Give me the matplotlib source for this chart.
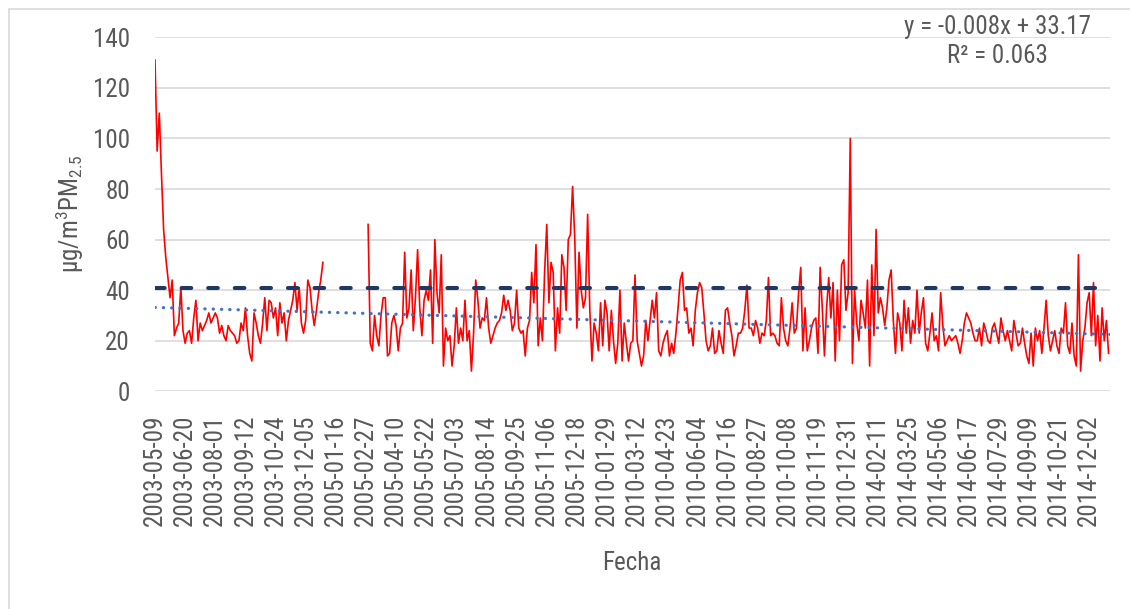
import numpy as np
import pandas as pd
import matplotlib
matplotlib.use('Agg')
import matplotlib.pyplot as plt
from matplotlib.patches import Rectangle

plt.rcParams['font.family'] = ['Liberation Sans Narrow', 'Roboto Condensed', 'Open Sans Condensed',
                               'Liberation Sans', 'DejaVu Sans']
plt.rcParams['mathtext.default'] = 'regular'

# Periodos medidos (cada dia es una categoria del eje x)
periodos = [('2003-05-09', '2003-12-31'), ('2005-01-01', '2005-12-31'),
            ('2010-01-01', '2010-12-31'), ('2014-01-01', '2014-12-31')]

# PM2.5 (ug/m3) leido cada 3 dias
inicio_2003 = '2003-05-09'
pm_2003 = [131, 95, 110, 86, 64, 53, 45, 37, 44, 22, 25, 27, 41, 24, 19, 23, 24, 19, 29, 36,
           20, 27, 24, 26, 28, 31, 27, 29, 31, 29, 23, 26, 22, 20, 26, 24, 23, 22, 19, 20,
           27, 24, 33, 22, 15, 12, 31, 27, 22, 19, 27, 37, 24, 36, 35, 29, 33,
           22, 35, 27, 31, 20, 28, 32, 36, 43, 32, 41, 27, 23, 28, 44, 41, 32, 26, 32, 39, 44, 51]

inicio_2005 = '2005-03-02'
pm_2005 = [66, 19, 16, 30, 22, 18, 30, 37, 37, 14, 15, 27, 30,
           26, 16, 25, 27, 55, 29, 33, 48, 24, 37, 56, 33, 22, 36, 40, 36, 48, 19, 60, 39,
           31, 54, 10, 25, 20, 22, 10, 18, 33, 19, 25, 20, 36, 20, 24, 8, 23, 44, 36, 25,
           29, 28, 37, 25, 19, 22, 25, 27, 28, 31, 38, 32, 36, 32, 24, 27,
           40, 25, 23, 24, 14, 25, 28, 47, 35, 58, 18, 29, 20, 47, 66, 35, 51, 47, 16, 33,
           23, 54, 49, 32, 60, 62, 81, 61, 25, 55, 40, 33, 37]

inicio_2010 = '2010-01-02'
pm_2010 = [70, 32, 12, 27, 23, 16, 35, 18, 36, 31, 16, 32, 20, 11, 19, 40, 12, 27, 19, 12, 19, 20, 46,
           20, 15, 10, 14, 28, 20, 28, 36, 29, 39, 16, 14, 19, 22, 24, 14, 19, 15, 23, 33,
           44, 47, 32, 33, 23, 25, 18, 32, 39, 43, 41, 31, 20, 16, 18, 25, 15, 16, 24, 19,
           15, 32, 33, 27, 22, 14, 18, 23, 23, 25, 32, 42, 25, 25, 22,
           28, 25, 19, 23, 22, 28, 45, 22, 23, 22, 19, 18, 37, 25, 20, 18, 25, 35, 23, 25,
           39, 49, 16, 33, 16, 20, 25, 28, 29, 15, 49, 33, 14, 33, 45, 29, 43, 12, 40, 20,
           50, 52, 32, 39]

inicio_2014 = '2014-01-03'
pm_2014 = [100, 11, 40, 27, 20, 36, 31, 25, 44, 10, 50, 22,
           64, 31, 37, 33, 26, 33, 44, 48, 28, 15, 31, 27, 16, 36, 23, 33, 19, 28, 23, 40,
           23, 31, 37, 19, 16, 23, 31, 20, 22, 16, 39, 26, 18, 20, 22,
           20, 21, 22, 19, 15, 20, 27, 31, 29, 27, 23, 20, 20, 25, 18, 27, 24, 20, 19, 25,
           27, 23, 19, 29, 24, 20, 24, 20, 16, 28, 23, 18, 19, 25, 19, 14, 11, 23, 10, 25,
           20, 24, 15, 25, 36, 22, 16, 20, 24, 18, 15, 25, 23, 35, 18, 15, 27, 14, 10, 54,
           8, 20, 25, 35, 39, 22, 43, 18, 30, 12, 33, 20, 28, 15]

limite = 41
pendiente = -0.008
intercepto = 33.17

fechas = pd.DatetimeIndex(np.concatenate([pd.date_range(a, b).values for a, b in periodos]))
etiquetas = fechas.strftime('%Y-%m-%d')
pos = pd.Series(np.arange(len(fechas)), index=fechas)


def posiciones(inicio, n):
    return pos[pd.date_range(inicio, periods=n, freq='3D')].to_numpy()


x03 = posiciones(inicio_2003, len(pm_2003))
x_resto = np.concatenate([posiciones(inicio_2005, len(pm_2005)),
                          posiciones(inicio_2010, len(pm_2010)),
                          posiciones(inicio_2014, len(pm_2014))])
y_resto = pm_2005 + pm_2010 + pm_2014

gris = '#595959'
fs = 18
fig = plt.figure(figsize=(11.3, 6.09), dpi=100)
ax = fig.add_axes([155 / 1130, 1 - 391.3 / 609, 955 / 1130, 354 / 609])

ax.plot(x03, pm_2003, color='#FF0000', lw=1.2, zorder=2)
ax.plot(x_resto, y_resto, color='#FF0000', lw=1.2, zorder=2)
ax.axhline(limite, color='#203864', lw=2.9, dashes=(2.4, 4.2), dash_capstyle='round', zorder=3)
xt = np.arange(len(fechas))
ax.plot(xt, pendiente * (xt + 1) + intercepto, color='#4472C4', lw=2.3,
        dashes=(0.1, 2.5), dash_capstyle='round', zorder=4)

ax.set_xlim(0, len(fechas) - 1)
ax.set_ylim(0, 140)
ax.set_yticks(range(0, 141, 20))
ticks = np.arange(0, len(fechas), 42)
ax.set_xticks(ticks)
ax.set_xticklabels(etiquetas[ticks], rotation=90)
ax.grid(axis='y', color='#D9D9D9', lw=1.2)
ax.set_axisbelow(True)
for s in ax.spines.values():
    s.set_visible(False)
ax.tick_params(length=0, colors=gris, labelsize=fs)
ax.tick_params(axis='y', pad=18)
ax.tick_params(axis='x', pad=17)

fig.text(632 / 1130, 1 - 563 / 609, 'Fecha', ha='center', va='center', fontsize=fs, color=gris)
fig.text(70 / 1130, 1 - 214 / 609, r'μg/m$^{3}$PM$_{2.5}$', ha='center', va='center',
         rotation=90, fontsize=fs, color=gris)
fig.text(997 / 1130, 1 - 27 / 609, 'y = -0.008x + 33.17', ha='center', va='center',
         fontsize=fs, color=gris)
fig.text(997 / 1130, 1 - 56 / 609, 'R² = 0.063', ha='center', va='center',
         fontsize=fs, color=gris)

fig.add_artist(Rectangle((9 / 1130, -0.1), 1.2, 1.1 - 9 / 609, transform=fig.transFigure,
                         fill=False, ec='#D9D9D9', lw=1.2))

fig.savefig('out.png', dpi=100)
